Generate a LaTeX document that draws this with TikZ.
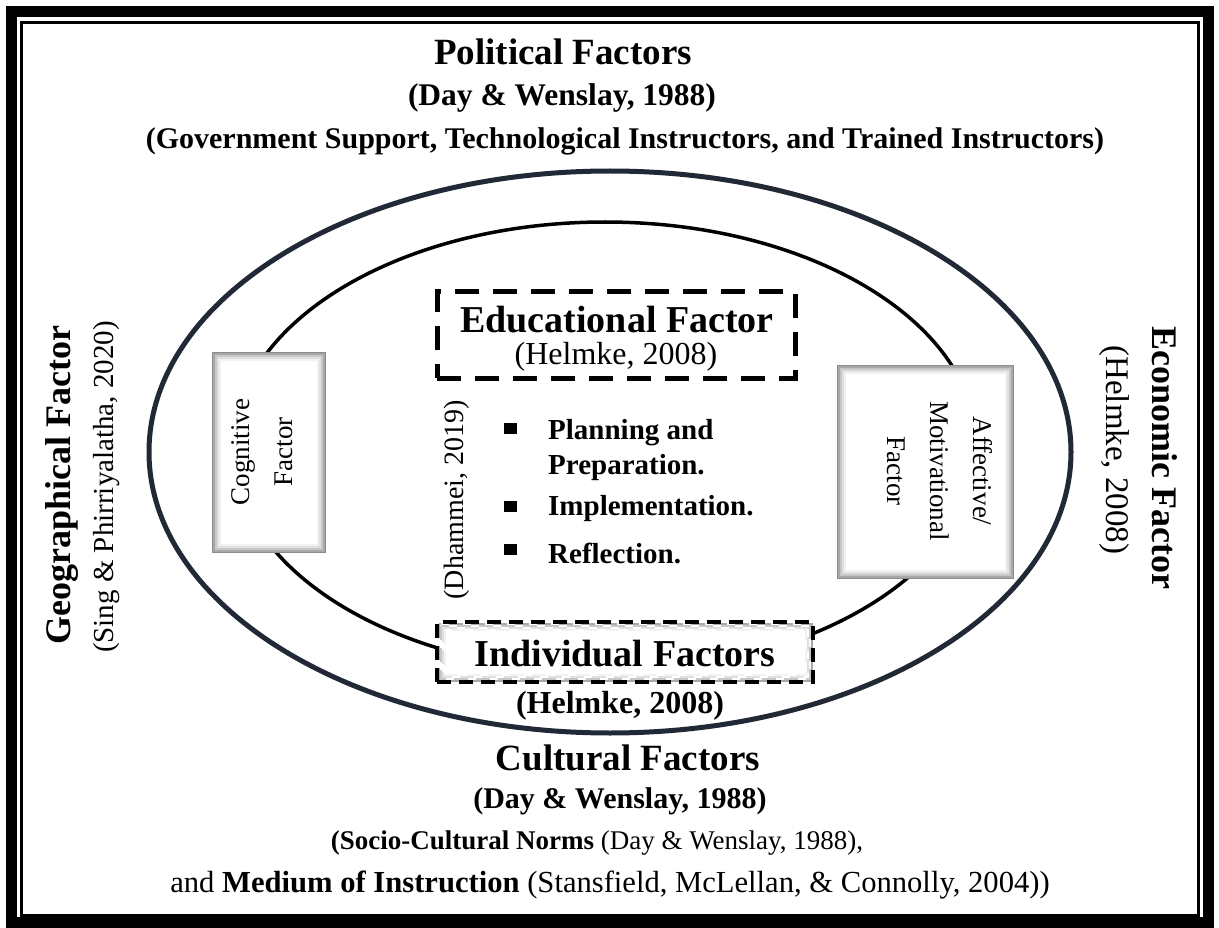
\documentclass[tikz,border=0pt]{standalone}
\usepackage{fontspec}
\setmainfont{Liberation Serif}
\newcommand{\fsz}[1]{\fontsize{#1}{#1}\selectfont}
\definecolor{slate}{HTML}{222936}
\tikzset{
  lbl/.style={inner sep=0pt, align=center},
  glowbox/.style={fill=white, path picture={
    \foreach \d/\g in {1.5/34,3.5/22,5.5/12,7.5/5}{
      \draw[black!\g, line width=2pt]
        ([xshift=\d pt, yshift=-\d pt]path picture bounding box.north west) rectangle
        ([xshift=-\d pt, yshift=\d pt]path picture bounding box.south east);
    }}},
  sidebox/.style={glowbox, draw=black!45, line width=1pt, inner sep=0pt},
  bul/.style={fill=black, minimum width=13pt, minimum height=11pt, inner sep=0pt}
}
\begin{document}
\begin{tikzpicture}[x=1pt, y=-1pt]
\useasboundingbox (0,0) rectangle (1219,928);
% double frame
\draw[line width=11pt] (11,12) rectangle (1208,922);
\draw[line width=3pt] (21,23) rectangle (1198,915);

% outer and inner rings
\draw[slate, line width=5pt] (610,452) ellipse [x radius=461pt, y radius=281pt];
\draw[black, line width=3.5pt] (605,447) ellipse [x radius=372pt, y radius=225pt];

% top heading
\node[lbl] (pol) at (563,52) {\fsz{37}\bfseries Political Factors};
\node[lbl] (polref) at (562,98) {\fsz{31.5}\bfseries (Day \& Wenslay, 1988)};
\node[lbl] (poldet) at (625,141) {\fsz{30}\bfseries (Government Support, Technological Instructors, and Trained Instructors)};

% left side
\node[lbl, rotate=90] (geo) at (62,485) {\fsz{36}\bfseries Geographical Factor};
\node[lbl, rotate=90] (georef) at (107,487) {\fsz{29}(Sing \& Phirriyalatha, 2020)};

% right side
\node[lbl, rotate=-90] (eco) at (1165,458) {\fsz{36}\bfseries Economic Factor};
\node[lbl, rotate=-90] (ecoref) at (1114,450) {\fsz{33}(Helmke, 2008)};

% side boxes
\node[sidebox, minimum width=113pt, minimum height=200pt] (cog) at (268.5,452) {};
\node[lbl, rotate=90, font=\fontsize{27}{43}\selectfont] (cogt) at (262,452) {Cognitive\\Factor};
\node[sidebox, minimum width=176pt, minimum height=213pt] (aff) at (925,471.5) {};
\node[lbl, rotate=-90, font=\fontsize{27}{43}\selectfont] (afft) at (940,471) {Affective/\\Motivational\\Factor};

% educational factor
\node[draw, line width=5pt, dash pattern=on 24pt off 14pt, fill=white,
      minimum width=358pt, minimum height=86pt, inner sep=0pt] (edu) at (616,335) {};
\node[lbl] (edut) at (617,320) {\fsz{38}\bfseries Educational Factor};
\node[lbl] (eduref) at (616,357) {\fsz{32}(Helmke, 2008)};

% stages
\node[lbl, rotate=90] (dham) at (457,500) {\fsz{28}(Dhammei, 2019)};
\node[bul] (b1) at (510,428) {};
\node[bul] (b2) at (510,506) {};
\node[bul] (b3) at (510,549) {};
\node[lbl, anchor=west, align=left, font=\fontsize{29}{35}\selectfont\bfseries] (s1) at (548,450) {Planning and\\Preparation.};
\node[lbl, anchor=west] (s2) at (548,509) {\fsz{29}\bfseries Implementation.};
\node[lbl, anchor=west] (s3) at (548,553) {\fsz{29}\bfseries Reflection.};

% individual factors
\node[draw, line width=4pt, dash pattern=on 14pt off 8pt, glowbox,
      minimum width=376pt, minimum height=60pt, inner sep=0pt] (ind) at (625,652) {};
\node[lbl] (indt) at (625,654) {\fsz{38}\bfseries Individual Factors};
\node[lbl] (indref) at (620,706) {\fsz{32}\bfseries (Helmke, 2008)};

% bottom heading
\node[lbl] (cul) at (628,758) {\fsz{37}\bfseries Cultural Factors};
\node[lbl] (culref) at (620,801) {\fsz{30}\bfseries (Day \& Wenslay, 1988)};
\node[lbl] (culdet1) at (597,843) {\fsz{27}\textbf{(Socio-Cultural Norms} (Day \& Wenslay, 1988),};
\node[lbl] (culdet2) at (610,885) {\fsz{30.6}and \textbf{Medium of Instruction} (Stansfield, McLellan, \& Connolly, 2004))};
\end{tikzpicture}
\end{document}
